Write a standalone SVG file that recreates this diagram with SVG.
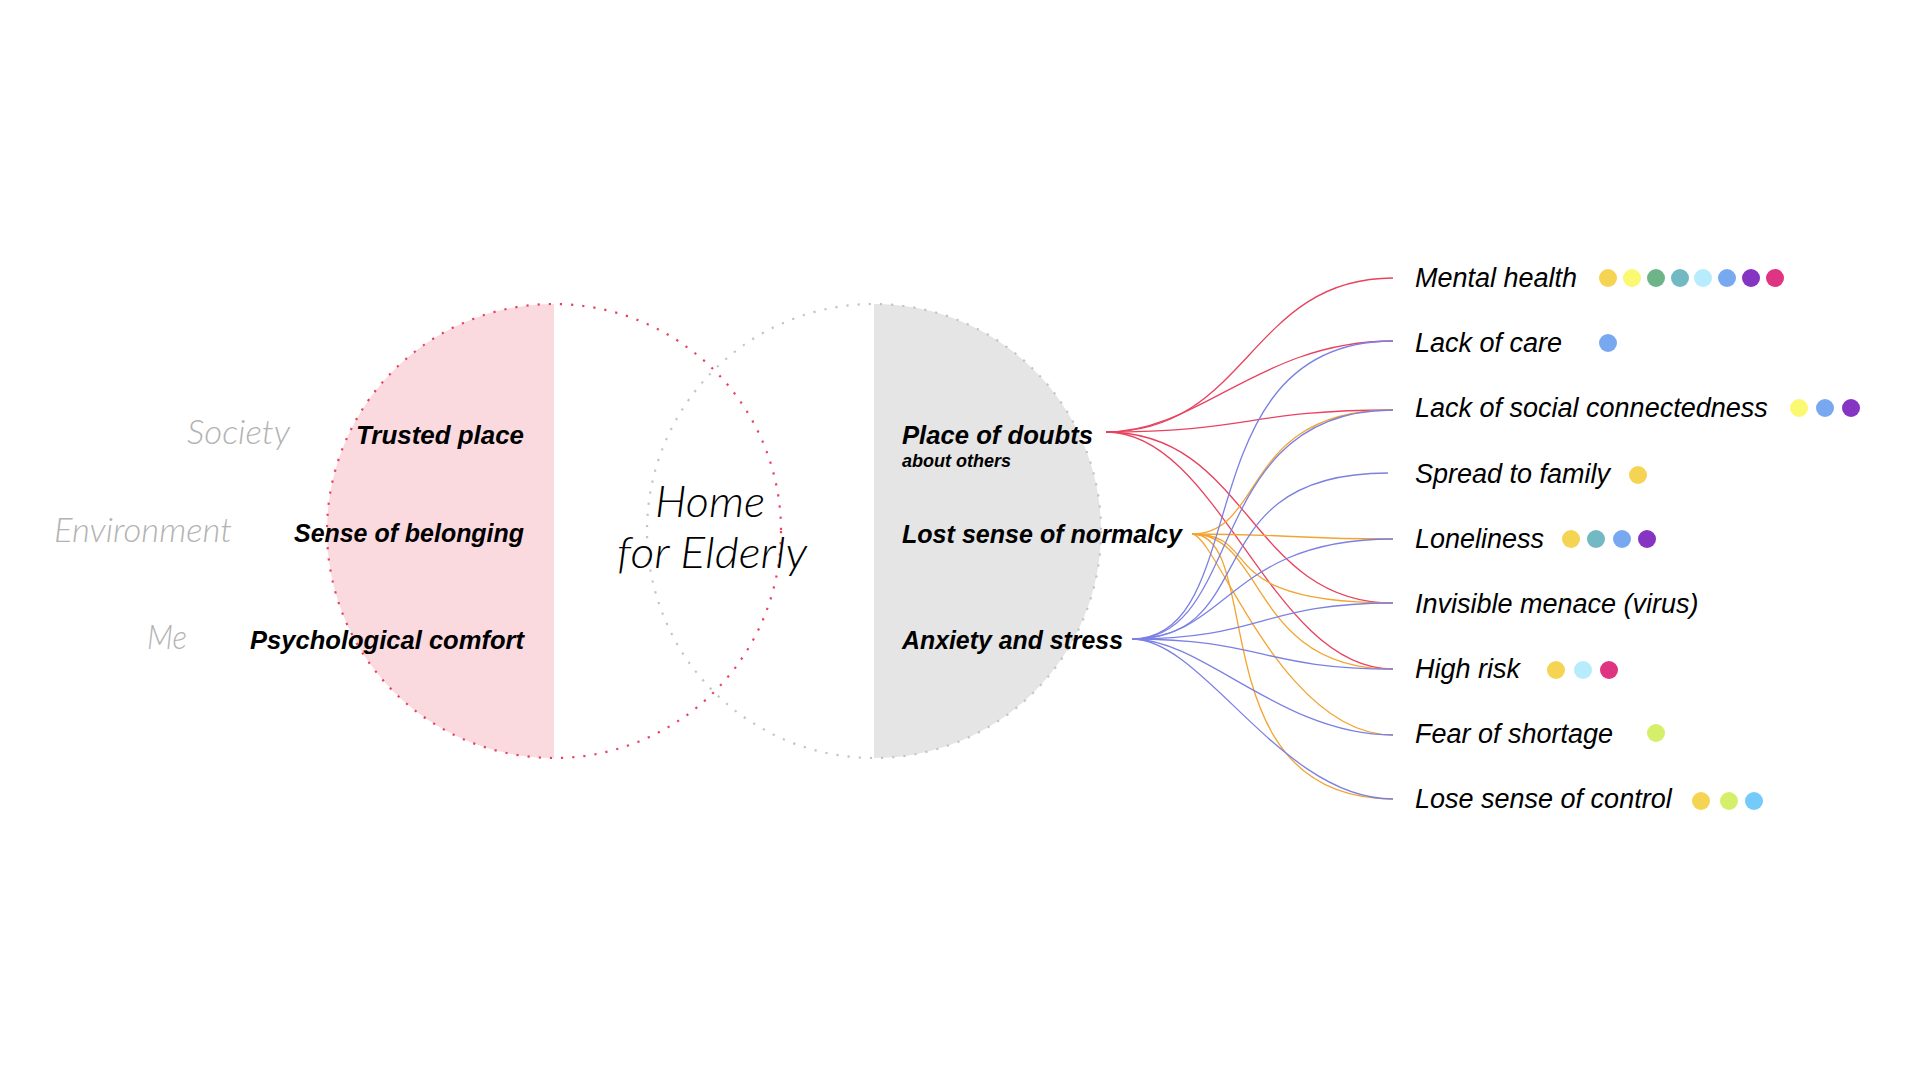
<svg xmlns="http://www.w3.org/2000/svg" width="1920" height="1080" viewBox="0 0 1920 1080">
<style>
.bg{fill:#ffffff}
.lbl{font-family:"Liberation Sans",Arial,sans-serif;font-style:italic;font-weight:bold;font-size:25.6px;fill:#000}
.sub{font-family:"Liberation Sans",Arial,sans-serif;font-style:italic;font-weight:bold;font-size:18px;fill:#000}
.dim{font-family:"Lato","Liberation Sans",sans-serif;font-style:italic;font-weight:300;font-size:34px;fill:#b3b3b3}
.home{font-family:"Lato","Liberation Sans",sans-serif;font-style:italic;font-weight:300;font-size:44px;fill:#000}
.out{font-family:"Liberation Sans",Arial,sans-serif;font-style:italic;font-size:27px;fill:#000}
.ring{fill:none;stroke-width:2.2;stroke-dasharray:2.2 9}
.red{stroke:#e8425f}
.gry{stroke:#c4c4c4}
.c{fill:none;stroke-width:1.3}
.cr{stroke:#e8425f}
.co{stroke:#f2a531}
.cb{stroke:#7c80e2}
.dY{fill:#f5d453}.dL{fill:#fbf871}.dG{fill:#6db589}.dT{fill:#72b9c3}.dLB{fill:#b6ecfd}.dB{fill:#78a9f0}.dP{fill:#8634c2}.dM{fill:#de3481}.dLi{fill:#d6ef6b}.dS{fill:#74cbfb}
</style>
<rect class="bg" x="0" y="0" width="1920" height="1080"/>

<g id="circle-left">
  <path d="M554,304 A227,227 0 0 0 554,758 Z" fill="#fadadf"/>
</g>
<g id="circle-right">
  <path d="M874,304 A227,227 0 0 1 874,758 Z" fill="#e5e5e5"/>
</g>
<circle class="ring gry" cx="874" cy="531" r="227"/>
<circle class="ring red" cx="554" cy="531" r="227"/>

<g id="dimension-labels">
  <text class="dim" x="187" y="444" textLength="103" lengthAdjust="spacingAndGlyphs">Society</text>
  <text class="dim" x="54" y="542" textLength="178" lengthAdjust="spacingAndGlyphs">Environment</text>
  <text class="dim" x="147" y="649" textLength="40" lengthAdjust="spacingAndGlyphs">Me</text>
</g>

<g id="left-items">
  <text class="lbl" x="356" y="444" textLength="168" lengthAdjust="spacingAndGlyphs">Trusted place</text>
  <text class="lbl" x="294" y="542" textLength="230" lengthAdjust="spacingAndGlyphs">Sense of belonging</text>
  <text class="lbl" x="250" y="649" textLength="274" lengthAdjust="spacingAndGlyphs">Psychological comfort</text>
</g>

<g id="center-title">
  <text class="home" x="655" y="517" textLength="110" lengthAdjust="spacingAndGlyphs">Home</text>
  <text class="home" x="617" y="568" textLength="190" lengthAdjust="spacingAndGlyphs">for Elderly</text>
</g>

<g id="node-doubts">
  <text class="lbl" x="902" y="444" textLength="191" lengthAdjust="spacingAndGlyphs">Place of doubts</text>
  <text class="sub" x="902" y="467">about others</text>
</g>
<g id="node-normalcy">
  <text class="lbl" x="902" y="543" textLength="280" lengthAdjust="spacingAndGlyphs">Lost sense of normalcy</text>
</g>
<g id="node-anxiety">
  <text class="lbl" x="902" y="649" textLength="221" lengthAdjust="spacingAndGlyphs">Anxiety and stress</text>
</g>

<g id="connectors">
  <!-- Place of doubts (red) -->
  <path class="c cr" d="M1106,432 C1249,432 1249,278 1393,278"/>
  <path class="c cr" d="M1106,432 C1200,432 1260,341 1393,341"/>
  <path class="c cr" d="M1106,432 C1249,432 1249,410 1393,410"/>
  <path class="c cr" d="M1106,432 C1249,432 1249,603 1393,603"/>
  <path class="c cr" d="M1106,432 C1220,432 1270,669 1393,669"/>
  <!-- Lost sense of normalcy (orange) -->
  <path class="c co" d="M1192,534 C1266,534 1240,410 1393,410"/>
  <path class="c co" d="M1192,534 C1292,534 1292,539 1393,539"/>
  <path class="c co" d="M1192,534 C1266,534 1205,603 1393,603"/>
  <path class="c co" d="M1192,534 C1266,534 1250,669 1393,669"/>
  <path class="c co" d="M1192,534 C1216,534 1281,735 1393,735"/>
  <path class="c co" d="M1192,534 C1266,534 1198,799 1393,799"/>
  <!-- Anxiety and stress (blue) -->
  <path class="c cb" d="M1132,639 C1256,639 1183,341 1393,341"/>
  <path class="c cb" d="M1132,639 C1246,639 1203,410 1393,410"/>
  <path class="c cb" d="M1132,639 C1265,639 1193,473 1388,473"/>
  <path class="c cb" d="M1132,639 C1229,639 1228,539 1393,539"/>
  <path class="c cb" d="M1132,639 C1262,639 1262,603 1393,603"/>
  <path class="c cb" d="M1132,639 C1262,639 1262,669 1393,669"/>
  <path class="c cb" d="M1132,639 C1204,639 1281,735 1393,735"/>
  <path class="c cb" d="M1132,639 C1204,639 1281,799 1393,799"/>
</g>

<g id="node-mental-health">
  <text class="out" x="1415" y="287">Mental health</text>
  <circle class="dY" cx="1608" cy="278" r="9"/><circle class="dL" cx="1632" cy="278" r="9"/><circle class="dG" cx="1656" cy="278" r="9"/><circle class="dT" cx="1680" cy="278" r="9"/><circle class="dLB" cx="1703" cy="278" r="9"/><circle class="dB" cx="1727" cy="278" r="9"/><circle class="dP" cx="1751" cy="278" r="9"/><circle class="dM" cx="1775" cy="278" r="9"/>
</g>
<g id="node-lack-of-care">
  <text class="out" x="1415" y="352">Lack of care</text>
  <circle class="dB" cx="1608" cy="343" r="9"/>
</g>
<g id="node-lack-social">
  <text class="out" x="1415" y="417">Lack of social connectedness</text>
  <circle class="dL" cx="1799" cy="408" r="9"/><circle class="dB" cx="1825" cy="408" r="9"/><circle class="dP" cx="1851" cy="408" r="9"/>
</g>
<g id="node-spread">
  <text class="out" x="1415" y="483">Spread to family</text>
  <circle class="dY" cx="1638" cy="475" r="9"/>
</g>
<g id="node-loneliness">
  <text class="out" x="1415" y="548">Loneliness</text>
  <circle class="dY" cx="1571" cy="539" r="9"/><circle class="dT" cx="1596" cy="539" r="9"/><circle class="dB" cx="1622" cy="539" r="9"/><circle class="dP" cx="1647" cy="539" r="9"/>
</g>
<g id="node-invisible">
  <text class="out" x="1415" y="613">Invisible menace (virus)</text>
</g>
<g id="node-high-risk">
  <text class="out" x="1415" y="678">High risk</text>
  <circle class="dY" cx="1556" cy="670" r="9"/><circle class="dLB" cx="1583" cy="670" r="9"/><circle class="dM" cx="1609" cy="670" r="9"/>
</g>
<g id="node-fear">
  <text class="out" x="1415" y="743">Fear of shortage</text>
  <circle class="dLi" cx="1656" cy="733" r="9"/>
</g>
<g id="node-control">
  <text class="out" x="1415" y="808">Lose sense of control</text>
  <circle class="dY" cx="1701" cy="801" r="9"/><circle class="dLi" cx="1729" cy="801" r="9"/><circle class="dS" cx="1754" cy="801" r="9"/>
</g>
</svg>
